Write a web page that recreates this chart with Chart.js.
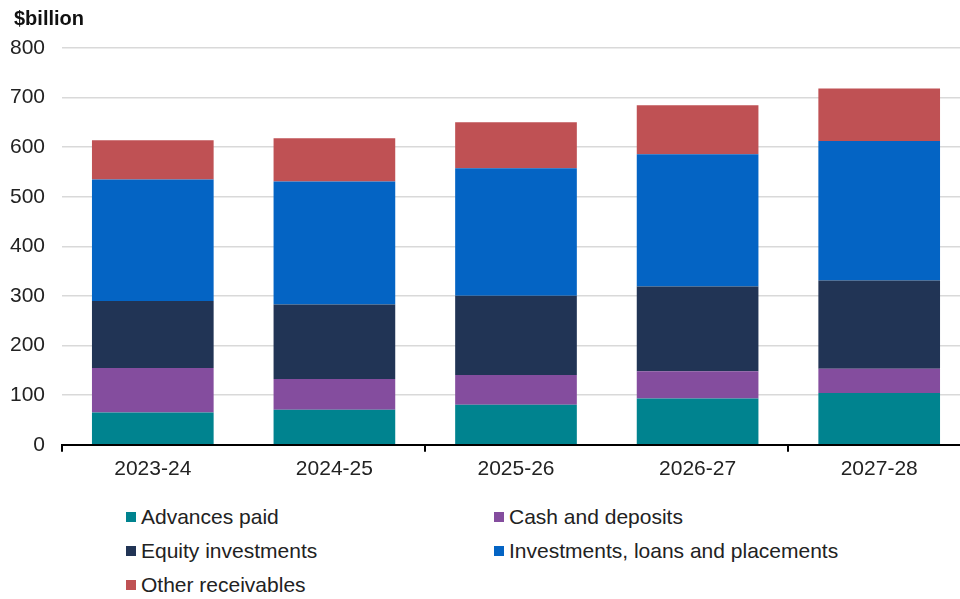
<!DOCTYPE html>
<html>
<head>
<meta charset="utf-8">
<script src="https://cdn.jsdelivr.net/npm/chart.js@4.4.1/dist/chart.umd.min.js"></script>
<style>
  html, body { margin: 0; padding: 0; background: #fff; }
  body { width: 960px; height: 599px; position: relative; overflow: hidden; font-family: "Liberation Sans", Arial, sans-serif; }
  #wrap { position: absolute; left: 0; top: 0; width: 970px; height: 487px; }
  #unit { position: absolute; left: 14px; top: 6px; font-size: 20px; font-weight: bold; color: #111; line-height: 24px; }
  #legend { position: absolute; left: 126px; top: 505px; width: 800px; display: grid; grid-template-columns: 368px 400px; row-gap: 10px; }
  .item { display: flex; align-items: center; font-size: 21px; color: #222; height: 24px; }
  .box { width: 10px; height: 10px; margin-right: 5px; flex: none; }
</style>
</head>
<body>
<div id="wrap"><canvas id="chart"></canvas></div>
<div id="unit">$billion</div>
<div id="legend"></div>
<script>
const years = ['2023-24', '2024-25', '2025-26', '2026-27', '2027-28'];
const advancesPaid = [65, 70.5, 80.5, 93.5, 104.5];
const cashDeposits = [90, 62, 60, 55, 49];
const equityInvestments = [135, 150.5, 160, 170.5, 178];
const investmentsLoans = [245, 248, 257, 267, 281];
const otherReceivables = [79, 87, 93, 98.5, 106];

const seriesNames = ['Advances paid', 'Cash and deposits', 'Equity investments', 'Investments, loans and placements', 'Other receivables'];
const seriesColors = ['#00838f', '#844d9e', '#213455', '#0464c4', '#bf5154'];
const seriesData = [advancesPaid, cashDeposits, equityInvestments, investmentsLoans, otherReceivables];

Chart.defaults.font.family = '"Liberation Sans", Arial, sans-serif';
Chart.defaults.color = '#222';

const chart = new Chart(document.getElementById('chart'), {
  type: 'bar',
  data: {
    labels: years,
    datasets: seriesNames.map((name, i) => ({
      label: name,
      data: seriesData[i],
      backgroundColor: seriesColors[i],
      borderWidth: 0,
      categoryPercentage: 1,
      barPercentage: 0.67
    }))
  },
  options: {
    responsive: true,
    maintainAspectRatio: false,
    animation: false,
    layout: { padding: { left: 2, right: 0, top: 48, bottom: 0 } },
    scales: {
      x: {
        stacked: true,
        border: { color: '#000', width: 2 },
        grid: {
          drawOnChartArea: false,
          drawTicks: true,
          tickLength: 7,
          lineWidth: 2,
          color: ctx => (ctx.index % 2 === 0 ? '#000' : 'rgba(0,0,0,0)')
        },
        ticks: { font: { size: 21 }, color: '#222', padding: 5 }
      },
      y: {
        stacked: true,
        min: 0,
        max: 800,
        border: { display: false },
        grid: { color: '#d9d9d9', lineWidth: 1.5, drawTicks: false },
        ticks: { stepSize: 100, font: { size: 21 }, color: '#222', padding: 17 },
        afterFit: scale => { scale.width = 60; }
      }
    },
    plugins: {
      legend: { display: false },
      tooltip: { enabled: false }
    }
  }
});

const legend = document.getElementById('legend');
chart.data.datasets.forEach(ds => {
  const item = document.createElement('div');
  item.className = 'item';
  const box = document.createElement('span');
  box.className = 'box';
  box.style.background = ds.backgroundColor;
  const label = document.createElement('span');
  label.textContent = ds.label;
  item.appendChild(box);
  item.appendChild(label);
  legend.appendChild(item);
});
</script>
</body>
</html>
